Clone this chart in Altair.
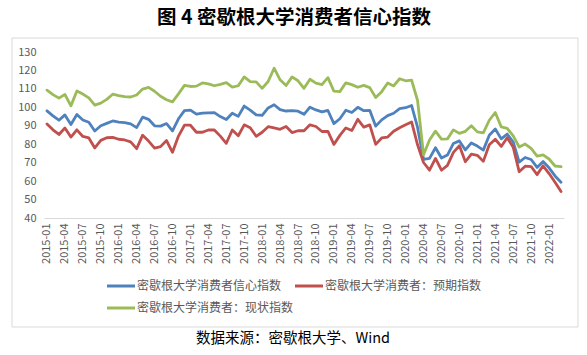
import altair as alt
import pandas as pd

months = [f"{y}-{m:02d}" for y in range(2015, 2023) for m in range(1, 13)][:87]
tick_labels = months[::3]

ics = [98.1, 95.4, 93.0, 95.9, 90.7, 96.1, 93.1, 91.9, 87.2, 90.0, 91.3, 92.6,
       92.0, 91.7, 91.0, 89.0, 94.7, 93.5, 90.0, 89.8, 91.2, 87.2, 93.8, 98.2,
       98.5, 96.3, 96.9, 97.0, 97.1, 95.0, 93.4, 96.8, 95.1, 100.7, 98.5, 95.9,
       95.7, 99.7, 101.4, 98.8, 98.0, 98.2, 97.9, 96.2, 100.1, 98.6, 97.5, 98.3,
       91.2, 93.8, 98.4, 97.2, 100.0, 98.2, 98.4, 89.8, 93.2, 95.5, 96.8, 99.3,
       99.8, 101.0, 89.1, 71.8, 72.3, 78.1, 72.5, 74.1, 80.4, 81.8, 76.9, 80.7,
       79.0, 76.8, 84.9, 88.3, 82.9, 85.5, 81.2, 70.3, 72.8, 71.7, 67.4, 70.6,
       67.2, 62.8, 59.4]

ice = [91.0, 87.8, 85.3, 88.8, 83.9, 87.8, 84.2, 83.4, 78.0, 82.1, 83.5, 83.7,
       82.7, 82.3, 81.3, 77.6, 84.9, 81.7, 77.9, 78.7, 82.0, 75.6, 84.4, 90.3,
       90.3, 86.5, 86.5, 87.7, 87.7, 84.4, 80.5, 87.7, 84.6, 90.5, 88.9, 84.3,
       86.5, 89.5, 88.8, 88.1, 89.6, 86.3, 87.3, 87.3, 90.5, 89.6, 86.9, 87.0,
       79.9, 84.8, 88.8, 87.4, 93.5, 89.3, 90.5, 79.9, 83.4, 83.9, 87.0, 88.9,
       90.5, 92.1, 79.7, 70.1, 65.9, 72.3, 65.9, 68.5, 75.6, 79.2, 70.5, 74.6,
       74.0, 70.7, 79.7, 82.7, 78.8, 83.5, 78.4, 65.1, 68.1, 67.9, 63.5, 68.3,
       64.1, 59.4, 54.3]

icc = [109.3, 106.9, 105.0, 107.0, 100.8, 108.9, 107.2, 105.1, 101.2, 102.3, 104.3, 107.1,
       106.4, 105.8, 105.6, 106.7, 109.9, 110.8, 108.7, 106.0, 104.1, 103.0, 107.3, 111.9,
       111.3, 111.5, 113.2, 112.7, 111.7, 112.5, 113.4, 111.0, 111.7, 116.5, 113.9, 113.8,
       110.3, 114.0, 121.2, 114.9, 111.8, 116.5, 114.4, 110.3, 115.2, 113.1, 112.3, 116.1,
       108.8, 108.5, 113.3, 112.3, 110.9, 111.9, 110.7, 105.3, 108.5, 113.2, 111.6, 115.5,
       114.4, 114.8, 103.7, 74.3, 82.3, 87.1, 82.8, 82.9, 87.8, 85.9, 87.0, 90.0,
       86.7, 86.2, 93.0, 97.2, 89.4, 88.6, 84.5, 78.5, 80.1, 77.7, 73.6, 74.2,
       72.0, 68.2, 67.8]

names = ["密歇根大学消费者信心指数", "密歇根大学消费者：预期指数", "密歇根大学消费者：现状指数"]
colors = ["#4F81BD", "#C0504D", "#9BBB59"]
title_text = "图 4  密歇根大学消费者信心指数"
source_text = "数据来源：密歇根大学、Wind"

rows = []
for k, (name, vals) in enumerate(zip(names, [ics, ice, icc])):
    for m, v in zip(months, vals):
        rows.append({"month": m, "series": name, "value": v, "k": k})
df = pd.DataFrame(rows)

FONT = "Noto Sans CJK SC"
L, T = 44, 52
W, H = 520, 166
TOTAL_W, TOTAL_H = 587, 355

lines = alt.Chart(df).mark_line(strokeWidth=2.8, strokeCap="round", strokeJoin="round").encode(
    x=alt.X("month:O", sort=months,
            scale=alt.Scale(type="point", padding=0.5),
            axis=alt.Axis(values=tick_labels, labelAngle=-90, ticks=False,
                          domainColor="#D9D9D9", domainWidth=1,
                          labelColor="#595959", labelFontSize=11, labelFont=FONT,
                          labelPadding=5, title=None, labelAlign="right",
                          labelBaseline="middle")),
    y=alt.Y("value:Q", scale=alt.Scale(domain=[40, 130], nice=False),
            axis=alt.Axis(values=list(range(40, 131, 10)), grid=False, domain=False,
                          ticks=False, labelColor="#595959", labelFontSize=11,
                          labelFont=FONT, labelPadding=8, title=None)),
    color=alt.Color("series:N", sort=names,
                    scale=alt.Scale(domain=names, range=colors), legend=None),
    order=alt.Order("k:Q"),
)

one = pd.DataFrame({"t": [0]})

border = alt.Chart(one).mark_rect(fillOpacity=0, stroke="#D9D9D9", strokeWidth=1).encode(
    x=alt.value(12 - L), x2=alt.value(578 - L),
    y=alt.value(38 - T), y2=alt.value(327 - T),
)

title = alt.Chart(one).mark_text(font=FONT, fontSize=19.5, fontWeight="bold",
                                 color="#000000", baseline="middle", align="center").encode(
    x=alt.value(294 - L), y=alt.value(18 - T), text=alt.value(title_text),
)

source = alt.Chart(one).mark_text(font=FONT, fontSize=14.5, color="#000000",
                                  baseline="middle", align="center").encode(
    x=alt.value(293 - L), y=alt.value(339 - T), text=alt.value(source_text),
)

legend_layers = []
legend_pos = [(107, 286), (295, 286), (107, 308)]
for (x0, y0), name, col in zip(legend_pos, names, colors):
    legend_layers.append(
        alt.Chart(one).mark_rule(color=col, strokeWidth=3).encode(
            x=alt.value(x0 - L), x2=alt.value(x0 + 28 - L), y=alt.value(y0 - T)))
    legend_layers.append(
        alt.Chart(one).mark_text(font=FONT, fontSize=12, color="#595959",
                                 align="left", baseline="middle").encode(
            x=alt.value(x0 + 30 - L), y=alt.value(y0 - T), text=alt.value(name)))

chart = alt.layer(border, lines, title, source, *legend_layers).properties(
    width=W, height=H,
    padding={"left": L, "top": T, "right": TOTAL_W - L - W, "bottom": TOTAL_H - T - H},
    autosize=alt.AutoSizeParams(type="none"),
    background="white",
).configure_view(stroke=None)

chart.save("out.html", embed_options={"renderer": "svg", "actions": False})
